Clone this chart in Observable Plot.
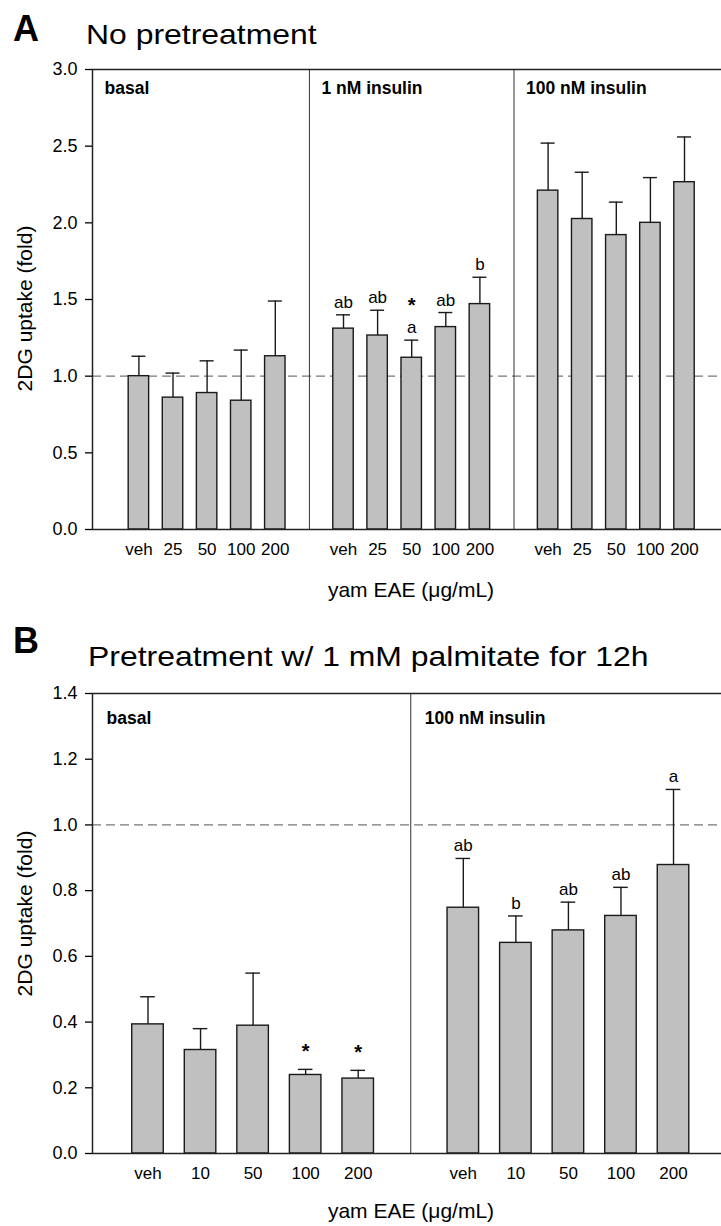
<!DOCTYPE html>
<html><head><meta charset="utf-8">
<script src="https://cdn.jsdelivr.net/npm/d3@7"></script>
<script src="https://cdn.jsdelivr.net/npm/@observablehq/plot@0.6"></script>
<style>
html,body{margin:0;padding:0;background:#fff;overflow:hidden;}
#fig{position:relative;width:721px;height:1226px;font-family:"Liberation Sans",Arial,sans-serif;color:#000;}
.tag{position:absolute;font-weight:bold;font-size:36px;line-height:36px;white-space:nowrap;}
.ttl{position:absolute;font-size:28px;line-height:28px;white-space:nowrap;transform-origin:0 0;transform:scaleX(1.14);}
.panel{position:absolute;left:0;}
</style></head><body>
<div id="fig">
  <div class="tag" style="left:13px;top:10.5px">A</div>
  <div class="ttl" style="left:86px;top:21.3px">No pretreatment</div>
  <div class="tag" style="left:13px;top:622.5px">B</div>
  <div class="ttl" style="left:88px;top:643.3px">Pretreatment w/ 1 mM palmitate for 12h</div>
  <div class="panel" id="pA" style="top:60px"></div>
  <div class="panel" id="pB" style="top:680px"></div>
</div>
<script>
// ---------- Panel A data ----------
const dosesA = ["veh", "25", "50", "100", "200"];
const groupsA = ["basal", "1 nM insulin", "100 nM insulin"];
const meanA_basal  = [1.00, 0.86, 0.89, 0.84, 1.13];
const errA_basal   = [0.13, 0.16, 0.21, 0.33, 0.36];
const meanA_ins1   = [1.31, 1.265, 1.12, 1.32, 1.47];
const errA_ins1    = [0.09, 0.165, 0.115, 0.095, 0.175];
const meanA_ins100 = [2.21, 2.025, 1.92, 2.00, 2.265];
const errA_ins100  = [0.31, 0.305, 0.215, 0.295, 0.295];
const lettersA_ins1 = ["ab", "ab", "a", "ab", "b"];
const starsA_ins1   = ["", "", "*", "", ""];
const yTicksA = [0, 0.5, 1.0, 1.5, 2.0, 2.5, 3.0];

// ---------- Panel B data ----------
const dosesB = ["veh", "10", "50", "100", "200"];
const groupsB = ["basal", "100 nM insulin"];
const meanB_basal  = [0.393, 0.315, 0.389, 0.239, 0.228];
const errB_basal   = [0.084, 0.065, 0.160, 0.017, 0.025];
const meanB_ins100 = [0.748, 0.641, 0.679, 0.723, 0.878];
const errB_ins100  = [0.150, 0.082, 0.086, 0.087, 0.230];
const starsB_basal    = ["", "", "", "*", "*"];
const lettersB_ins100 = ["ab", "b", "ab", "ab", "a"];
const yTicksB = [0, 0.2, 0.4, 0.6, 0.8, 1.0, 1.2, 1.4];

const refLine = 1.0;
const xLabel = "yam EAE (μg/mL)";
const yLabel = "2DG uptake (fold)";
const FONT = "'Liberation Sans', Arial, Helvetica, sans-serif";
const empty = ["", "", "", "", ""];

function panel(o) {
  const rows = [];
  const step = o.doses.length + 1;
  o.groups.forEach((g, gi) => o.doses.forEach((d, di) => rows.push({
    group: g, dose: d, slot: gi * step + di + 1,
    mean: o.means[gi][di], top: o.means[gi][di] + o.errs[gi][di],
    letter: o.letters[gi][di], star: o.stars[gi][di]
  })));
  const bounds = o.groups.map((g, gi) => gi === 0 ? o.xDomain[0] : gi * step);
  const yMax = d3.max(o.yTicks);
  const ink = "#1a1a1a";
  return Plot.plot({
    width: 721, height: o.height,
    marginLeft: 92, marginRight: 0, marginTop: o.marginTop, marginBottom: o.marginBottom,
    x: {domain: o.xDomain, axis: null},
    y: {domain: [0, yMax], axis: null},
    style: {fontFamily: FONT, background: "white", color: "#000", overflow: "visible"},
    marks: [
      Plot.ruleY([refLine], {stroke: "#777", strokeWidth: 1.3, strokeDasharray: "9,5"}),
      Plot.ruleX(bounds.slice(1), {stroke: "#333", strokeWidth: 1}),
      Plot.rectY(rows, {x1: d => d.slot - 0.3, x2: d => d.slot + 0.3, y1: () => 0, y2: "mean",
        fill: "#c0c0c0", stroke: ink, strokeWidth: 1.4}),
      Plot.ruleX(rows, {x: "slot", y1: "mean", y2: "top", stroke: ink, strokeWidth: 1.4}),
      Plot.ruleY(rows, {y: "top", x1: d => d.slot - o.capHalf, x2: d => d.slot + o.capHalf, stroke: ink, strokeWidth: 1.4}),
      Plot.ruleY([0, yMax], {stroke: "#222", strokeWidth: 1.5}),
      Plot.ruleX([o.xDomain[0]], {stroke: "#222", strokeWidth: 1.5}),
      Plot.axisY({ticks: o.yTicks, tickFormat: d3.format(".1f"), tickSize: 7, tickPadding: 8,
        fontSize: 18, strokeWidth: 1.3, label: null}),
      Plot.axisX({ticks: rows.map(d => d.slot), tickFormat: s => rows.find(r => r.slot === s).dose,
        tickSize: 0, tickPadding: 13, fontSize: 17, label: null}),
      Plot.text(rows.filter(d => d.letter), {x: "slot", y: "top", text: "letter",
        lineAnchor: "bottom", dy: -7, fontSize: 17}),
      Plot.text(rows.filter(d => d.star), {x: "slot", y: "top", text: "star",
        lineAnchor: "bottom", dy: o.starDy, fontSize: 20, fontWeight: "bold"}),
      Plot.text(o.groups, {x: (d, i) => bounds[i], y: () => yMax, text: d => d,
        textAnchor: "start", lineAnchor: "bottom", dx: o.groupDx, dy: o.groupDy,
        fontWeight: "bold", fontSize: 17.5}),
      Plot.text([xLabel], {frameAnchor: "bottom", text: d => d, textAnchor: "middle", lineAnchor: "bottom",
        dy: o.xLabelDy, dx: 4, fontSize: 21}),
      Plot.text([yLabel], {frameAnchor: "left", text: d => d, rotate: -90, textAnchor: "middle",
        lineAnchor: "middle", dx: -67, dy: o.yLabelDy, fontSize: 21})
    ]
  });
}

document.getElementById("pA").append(panel({
  groups: groupsA, doses: dosesA,
  means: [meanA_basal, meanA_ins1, meanA_ins100],
  errs: [errA_basal, errA_ins1, errA_ins100],
  letters: [empty, lettersA_ins1, empty],
  stars: [empty, starsA_ins1, empty],
  yTicks: yTicksA, xDomain: [-0.361, 18.085], capHalf: 0.205,
  height: 549, marginTop: 9, marginBottom: 80,
  starDy: -28,
  groupDx: 12, groupDy: 24, xLabelDy: 67, yLabelDy: 9
}));

document.getElementById("pB").append(panel({
  groups: groupsB, doses: dosesB,
  means: [meanB_basal, meanB_ins100],
  errs: [errB_basal, errB_ins100],
  letters: [empty, lettersB_ins100],
  stars: [starsB_basal, empty],
  yTicks: yTicksB, xDomain: [-0.056, 11.913], capHalf: 0.139,
  height: 546, marginTop: 13, marginBottom: 73,
  starDy: -11,
  groupDx: 14, groupDy: 30, xLabelDy: 64, yLabelDy: -10
}));
</script>
</body></html>
